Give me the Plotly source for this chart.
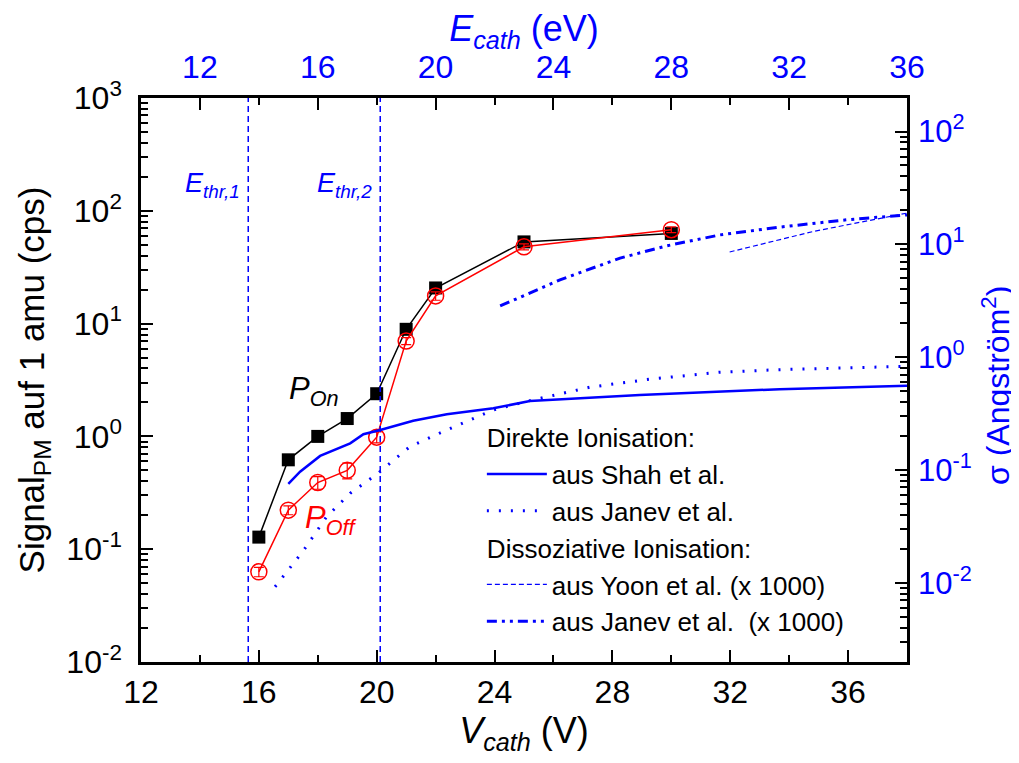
import plotly.graph_objects as go

# ---------------- data ----------------
v_cath = [16, 17, 18, 19, 20, 21, 22, 25, 30]
p_on = [0.128, 0.62, 1.0, 1.44, 2.39, 8.9, 20.7, 53, 63]
p_off = [0.063, 0.222, 0.39, 0.50, 0.985, 7.0, 17.6, 48, 68]
p_off_err = [0.006, 0.02, 0.05, 0.08, 0.11, 0.5, 1.5, 3, 4]

shah_e = [15.0, 15.4, 16.08, 17.1, 17.55, 18.12, 19.24, 20.38, 21.96, 23.2, 26.93, 31.68, 36.0]
shah_sigma = [0.0752, 0.0964, 0.133, 0.172, 0.207, 0.226, 0.273, 0.312, 0.352, 0.408, 0.462, 0.519, 0.558]

janev_dir_e = [14.55, 15.51, 16.30, 17.10, 18.0, 19.13, 20.38, 21.96, 23.2, 25.24, 27.27, 29.64, 31.68, 33.38, 35.65, 36.0]
janev_dir_sigma = [0.0092, 0.0192, 0.0385, 0.062, 0.0914, 0.161, 0.226, 0.340, 0.411, 0.541, 0.637, 0.735, 0.774, 0.80, 0.824, 0.826]

yoon_e = [29.98, 32.82, 36.0]
yoon_sigma_x1000 = [8.55, 13.0, 18.9]

janev_diss_e = [22.19, 24.22, 26.26, 27.84, 29.64, 31.68, 33.95, 36.0]
janev_diss_sigma_x1000 = [2.84, 4.84, 7.54, 9.69, 12.1, 14.2, 16.5, 18.2]

thresholds_v = [15.64, 20.12]
threshold_labels = ["<i>E</i><sub><i>thr,1</i></sub>", "<i>E</i><sub><i>thr,2</i></sub>"]

x_ticks = [12, 16, 20, 24, 28, 32, 36]
left_tickvals = [0.01, 0.1, 1, 10, 100, 1000]
left_ticktext = ["10<sup>-2</sup>", "10<sup>-1</sup>", "10<sup>0</sup>", "10<sup>1</sup>", "10<sup>2</sup>", "10<sup>3</sup>"]
right_tickvals = [0.01, 0.1, 1, 10, 100]
right_ticktext = ["10<sup>-2</sup>", "10<sup>-1</sup>", "10<sup>0</sup>", "10<sup>1</sup>", "10<sup>2</sup>"]

BLUE = "#0000FF"
RED = "#FF0000"
FONT = "Liberation Sans, Arial, sans-serif"

fig = go.Figure()

# measured signals
fig.add_trace(go.Scatter(
    x=v_cath, y=p_on, mode="lines+markers", showlegend=False,
    line=dict(color="black", width=1.5),
    marker=dict(symbol="square", size=13, color="black"),
    xaxis="x", yaxis="y"))
fig.add_trace(go.Scatter(
    x=v_cath, y=p_off, mode="lines+markers", showlegend=False,
    line=dict(color=RED, width=1.5),
    marker=dict(symbol="circle-open", size=16, color=RED, line=dict(width=1.5)),
    error_y=dict(type="data", array=p_off_err, color=RED, thickness=1.2, width=5),
    xaxis="x", yaxis="y"))

# cross sections (top / right axes)
fig.add_trace(go.Scatter(
    x=shah_e, y=shah_sigma, mode="lines", name="aus Shah et al.",
    legendgroup="direct", legendgrouptitle=dict(text="Direkte Ionisation:"),
    line=dict(color=BLUE, width=2.5),
    xaxis="x2", yaxis="y2"))
fig.add_trace(go.Scatter(
    x=janev_dir_e, y=janev_dir_sigma, mode="lines", name="aus Janev et al.",
    legendgroup="direct",
    line=dict(color=BLUE, width=3, dash="2px,10px"),
    xaxis="x2", yaxis="y2"))
fig.add_trace(go.Scatter(
    x=yoon_e, y=yoon_sigma_x1000, mode="lines", name="aus Yoon et al. (x 1000)",
    legendgroup="diss", legendgrouptitle=dict(text="Dissoziative Ionisation:"),
    line=dict(color=BLUE, width=1.2, dash="5px,3px"),
    xaxis="x2", yaxis="y2"))
fig.add_trace(go.Scatter(
    x=janev_diss_e, y=janev_diss_sigma_x1000, mode="lines", name="aus Janev et al.  (x 1000)",
    legendgroup="diss",
    line=dict(color=BLUE, width=3, dash="10px,5px,3px,5px,3px,5px"),
    xaxis="x2", yaxis="y2"))

# threshold lines
for xv, lab in zip(thresholds_v, threshold_labels):
    fig.add_shape(type="line", xref="x", yref="paper", x0=xv, x1=xv, y0=0, y1=1,
                  line=dict(color=BLUE, width=1.5, dash="6px,4px"))
    fig.add_annotation(x=xv - 1.2, y=2.225, xref="x", yref="y", text=lab,
                       showarrow=False, font=dict(size=27, color=BLUE, family=FONT))

fig.add_annotation(x=17.86, y=0.40, xref="x", yref="y",
                   text="<i>P</i><sub><i>On</i></sub>", showarrow=False,
                   font=dict(size=31, color="black", family=FONT))
fig.add_annotation(x=18.45, y=-0.74, xref="x", yref="y",
                   text="<i>P</i><sub><i>Off</i></sub>", showarrow=False,
                   font=dict(size=31, color=RED, family=FONT))

# right axis title (placed beside the right tick labels)
fig.add_annotation(x=1.144, y=0.49, xref="paper", yref="paper",
                   xanchor="right", yanchor="middle",
                   text="σ (Angström<sup>2</sup>)", textangle=-90, showarrow=False,
                   font=dict(size=32, color=BLUE, family=FONT))

axis_common = dict(showline=True, linewidth=2.5, linecolor="black", showgrid=False,
                   zeroline=False, ticks="inside", tickcolor="black", tickwidth=2,
                   automargin=False)

# page body adds an 8px offset; figure size/margins compensate for it
fig.update_layout(
    width=1011, height=755,
    margin=dict(l=133, r=112, t=90, b=101),
    paper_bgcolor="white", plot_bgcolor="white",
    font=dict(family=FONT, size=32, color="black"),
    xaxis=dict(range=[12, 38], tickvals=x_ticks, ticklen=12,
               minor=dict(dtick=2, tick0=12, ticks="inside", ticklen=7, tickwidth=2, tickcolor="black"),
               title=dict(text="<i>V</i><sub><i>cath</i></sub> (V)", font=dict(size=36), standoff=0),
               tickfont=dict(size=32, color="black"), ticklabelstandoff=0, **axis_common),
    xaxis2=dict(range=[10, 36], tickvals=x_ticks, ticklen=12, overlaying="x", side="top",
                minor=dict(dtick=2, tick0=10, ticks="inside", ticklen=7, tickwidth=2, tickcolor="black"),
                title=dict(text="<i>E</i><sub><i>cath</i></sub> (eV)", font=dict(size=36, color=BLUE), standoff=0),
                tickfont=dict(size=32, color=BLUE), ticklabelstandoff=4, **axis_common),
    yaxis=dict(type="log", range=[-2, 3], tickvals=left_tickvals, ticktext=left_ticktext, ticklen=12,
               minor=dict(dtick="D1", ticks="inside", ticklen=7, tickwidth=2, tickcolor="black"),
               title=dict(text="Signal<sub>PM</sub> auf 1 amu (cps)", font=dict(size=35), standoff=12),
               tickfont=dict(size=32, color="black"), ticklabelstandoff=10, **axis_common),
    yaxis2=dict(type="log", range=[-2.703, 2.297], tickvals=right_tickvals, ticktext=right_ticktext,
                ticklen=12, overlaying="y", side="right",
                minor=dict(dtick="D1", ticks="inside", ticklen=7, tickwidth=2, tickcolor="black"),
                tickfont=dict(size=31, color=BLUE), ticklabelstandoff=2, **axis_common),
    legend=dict(x=0.445, y=0.44, xanchor="left", yanchor="top",
                bgcolor="rgba(0,0,0,0)", font=dict(size=26, color="black"),
                grouptitlefont=dict(size=26, color="black"),
                traceorder="grouped", tracegroupgap=0, itemwidth=60),
)

fig.write_html("out.html")
